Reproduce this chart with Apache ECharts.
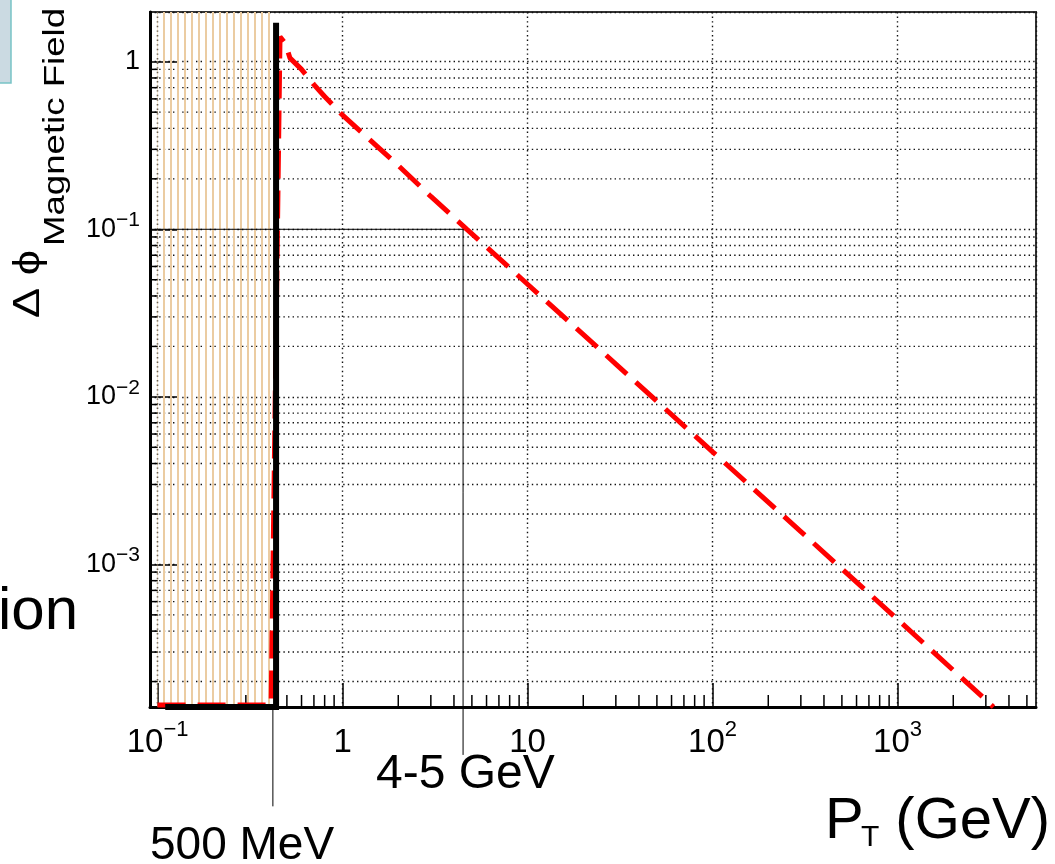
<!DOCTYPE html>
<html>
<head>
<meta charset="utf-8">
<script src="https://cdn.jsdelivr.net/npm/echarts@6/dist/echarts.min.js"></script>
<style>
html,body{margin:0;padding:0;background:#fff;}
#chart{width:1055px;height:864px;}
</style>
</head>
<body>
<div id="chart"></div>
<script>
// ---------- data ----------
const xRange = [0.091, 5600];
const yRange = [1.41e-4, 1.98];

// red dashed curve: delta phi vs pT
const redPT   = [0.1, 0.411, 0.459, 0.489, 0.52, 0.6, 0.7, 0.8, 1, 1.5, 2, 3, 4.7, 10, 30, 100, 300, 1000, 3300];
const redDphi = [1.45e-4, 1.45e-4, 1.41, 1.29, 1.05, 0.9, 0.73, 0.62, 0.48, 0.32, 0.24, 0.157, 0.1, 0.047, 0.0157, 0.0047, 0.00157, 0.00047, 0.000141];

// black threshold step
const blackPT   = [0.11, 0.437, 0.437];
const blackDphi = [1.41e-4, 1.41e-4, 1.71];

// hatched (excluded) region in pT
const hatchPT = [0.1, 0.415];

// annotation guide lines
const mevLinePT   = [0.42, 0.42];
const mevLineDphi = [1.41e-4, 3.6e-5];
const gevLinePT   = [0.091, 4.48, 4.48];
const gevLineDphi = [0.1, 0.1, 7.3e-5];

// tick values
const xMajorTicks = [0.1, 1, 10, 100, 1000];
const yMajorTicks = [0.001, 0.01, 0.1, 1];
const xMinorTicks = [0.2, 0.3, 0.4, 0.5, 0.6, 0.7, 0.8, 0.9,
                     2, 3, 4, 5, 6, 7, 8, 9,
                     20, 30, 40, 50, 60, 70, 80, 90,
                     200, 300, 400, 500, 600, 700, 800, 900,
                     2000, 3000, 4000, 5000];
const yMinorTicks = [2e-4, 3e-4, 4e-4, 5e-4, 6e-4, 7e-4, 8e-4, 9e-4,
                     2e-3, 3e-3, 4e-3, 5e-3, 6e-3, 7e-3, 8e-3, 9e-3,
                     0.02, 0.03, 0.04, 0.05, 0.06, 0.07, 0.08, 0.09,
                     0.2, 0.3, 0.4, 0.5, 0.6, 0.7, 0.8, 0.9];

// ---------- helpers ----------
const FONT = "'Liberation Sans', Arial, Helvetica, sans-serif";
const zip = (a, b) => a.map((v, i) => [v, b[i]]);

function powLabel(v) {
  const l = Math.log10(v);
  const e = Math.round(l);
  if (Math.abs(l - e) > 1e-6) return '';
  if (e === 0) return '{b|1}';
  if (e === 1) return '{b|10}';
  return '{b|10}{s|' + String(e).replace('-', '\u2212') + '}';
}

// hatch pattern
const pat = document.createElement('canvas');
pat.width = 7; pat.height = 8;
const pctx = pat.getContext('2d');
pctx.fillStyle = '#ebcca2';
pctx.fillRect(2, 0, 2, 8);

const GRID_DOT = {color: '#111', width: 1.4, type: [1.4, 3.2]};

const chart = echarts.init(document.getElementById('chart'));

const option = {
  animation: false,
  backgroundColor: '#fff',
  grid: {left: 150, top: 12, width: 886, height: 695, show: true, borderColor: '#333', borderWidth: 2, backgroundColor: 'transparent'},
  xAxis: {
    type: 'log', logBase: 10, min: xRange[0], max: xRange[1],
    axisLine: {show: true, onZero: false, lineStyle: {color: '#000', width: 3}},
    axisTick: {show: true, inside: true, length: 24, lineStyle: {color: '#000', width: 1.5}},
    axisLabel: {
      show: true, margin: 12, color: '#000', fontSize: 33, fontFamily: FONT,
      showMinLabel: false, showMaxLabel: false,
      formatter: powLabel,
      rich: {
        b: {fontSize: 33, fontFamily: FONT, color: '#000', padding: [7, 0, 0, 0]},
        s: {fontSize: 22, fontFamily: FONT, color: '#000', verticalAlign: 'top'}
      }
    },
    splitLine: {show: true, lineStyle: GRID_DOT},
    minorTick: {show: false}, minorSplitLine: {show: false}
  },
  yAxis: {
    type: 'log', logBase: 10, min: yRange[0], max: yRange[1],
    axisLine: {show: true, onZero: false, lineStyle: {color: '#000', width: 3}},
    axisTick: {show: true, inside: true, length: 28, lineStyle: {color: '#000', width: 1.5}},
    axisLabel: {
      show: true, margin: 10, color: '#000', fontSize: 27, fontFamily: FONT,
      showMinLabel: false, showMaxLabel: false,
      formatter: powLabel,
      rich: {
        b: {fontSize: 27, fontFamily: FONT, color: '#000', padding: [6, 0, 6, 0]},
        s: {fontSize: 21, fontFamily: FONT, color: '#000', verticalAlign: 'top'}
      }
    },
    splitLine: {show: true, lineStyle: GRID_DOT},
    minorTick: {show: false}, minorSplitLine: {show: false}
  },
  series: [
    {
      name: 'yMinor', type: 'custom', z: 1, silent: true,
      data: yMinorTicks.map(v => [1, v]),
      renderItem: function (params, api) {
        const cs = params.coordSys;
        const p = api.coord([1, api.value(1)]);
        return {type: 'group', children: [
          {type: 'line', shape: {x1: cs.x, y1: p[1], x2: cs.x + cs.width, y2: p[1]},
           style: {stroke: GRID_DOT.color, lineWidth: GRID_DOT.width, lineDash: GRID_DOT.type}},
          {type: 'line', shape: {x1: cs.x, y1: p[1], x2: cs.x + 8, y2: p[1]},
           style: {stroke: '#000', lineWidth: 1.5}}
        ]};
      }
    },
    {
      name: 'xMinor', type: 'custom', z: 1, silent: true,
      data: xMinorTicks.map(v => [v, 1]),
      renderItem: function (params, api) {
        const cs = params.coordSys;
        const p = api.coord([api.value(0), 1]);
        const yb = cs.y + cs.height;
        return {type: 'line', shape: {x1: p[0], y1: yb, x2: p[0], y2: yb - 12},
                style: {stroke: '#000', lineWidth: 1.5}};
      }
    },
    {
      name: 'excluded', type: 'line', z: 2, silent: true, symbol: 'none',
      data: [],
      markArea: {
        silent: true, z: 2,
        itemStyle: {color: {image: pat, repeat: 'repeat'}, borderWidth: 0},
        data: [[{xAxis: hatchPT[0], yAxis: yRange[0]}, {xAxis: hatchPT[1], yAxis: yRange[1]}]]
      }
    },
    {
      name: 'dphi', type: 'line', z: 3, silent: true, symbol: 'none', clip: true,
      data: zip(redPT, redDphi),
      lineStyle: {color: '#ff0000', width: 5, type: [28, 12]}
    },
    {
      name: 'threshold', type: 'line', z: 4, silent: true, symbol: 'none', clip: false,
      data: zip(blackPT, blackDphi),
      lineStyle: {color: '#000', width: 6, join: 'miter'}
    },
    {
      name: 'mevGuide', type: 'line', z: 5, silent: true, symbol: 'none', clip: false,
      data: zip(mevLinePT, mevLineDphi),
      lineStyle: {color: '#000', width: 1}
    },
    {
      name: 'gevGuide', type: 'line', z: 5, silent: true, symbol: 'none', clip: false,
      data: zip(gevLinePT, gevLineDphi),
      lineStyle: {color: '#000', width: 1}
    }
  ],
  graphic: [
    {type: 'rect', z: 10, shape: {x: -2, y: -2, width: 13, height: 85},
     style: {fill: '#cbdae2', stroke: '#78c3c6', lineWidth: 1.5}},
    {type: 'text', z: 10, x: -2, y: 612, style: {text: 'ion', font: 'normal 60px ' + FONT, fill: '#000', align: 'left', verticalAlign: 'middle'}},
    {type: 'text', z: 10, x: 29, y: 318, rotation: Math.PI / 2, scaleX: 1.22,
     style: {text: 'Δ \u03d5', font: 'normal 37px ' + FONT, fill: '#000', align: 'left', verticalAlign: 'middle'}},
    {type: 'text', z: 10, x: 56, y: 246, rotation: Math.PI / 2, scaleX: 1.22,
     style: {text: 'Magnetic Field', font: 'normal 30px ' + FONT, fill: '#000', align: 'left', verticalAlign: 'middle'}},
    {type: 'text', z: 10, x: 150, y: 846, style: {text: '500 MeV', font: 'normal 46px ' + FONT, fill: '#000', align: 'left', verticalAlign: 'middle'}},
    {type: 'text', z: 10, x: 376, y: 775, style: {text: '4-5 GeV', font: 'normal 48px ' + FONT, fill: '#000', align: 'left', verticalAlign: 'middle'}},
    {type: 'text', z: 10, x: 825, y: 822, style: {text: 'P', font: 'normal 58px ' + FONT, fill: '#000', align: 'left', verticalAlign: 'middle'}},
    {type: 'text', z: 10, x: 861, y: 838, style: {text: 'T', font: 'normal 30px ' + FONT, fill: '#000', align: 'left', verticalAlign: 'middle'}},
    {type: 'text', z: 10, x: 1050, y: 822, style: {text: '(GeV)', font: 'normal 58px ' + FONT, fill: '#000', align: 'right', verticalAlign: 'middle'}}
  ]
};
chart.setOption(option);
</script>
</body>
</html>
